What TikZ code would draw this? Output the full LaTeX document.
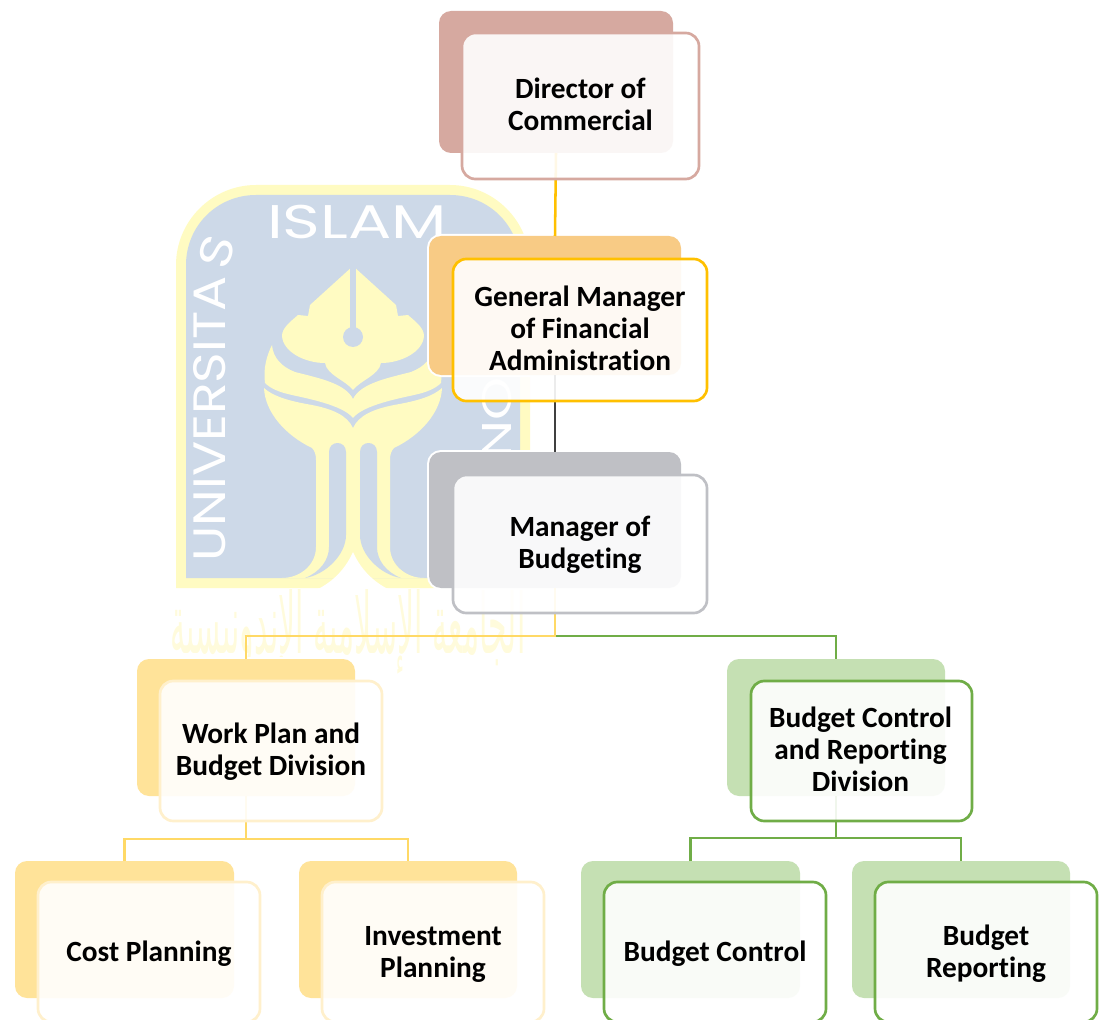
\documentclass[tikz,border=0pt]{standalone}
\usepackage{fontspec}
\usepackage{graphicx}
\setmainfont[Ligatures=NoCommon]{Carlito}
\newfontfamily\logofont{Poppins}
\newfontfamily\arabicfont[Script=Arabic]{DejaVu Sans}
\TeXXeTstate=1
\definecolor{wmY}{HTML}{FFFBC2}
\definecolor{wmB}{HTML}{CDD9E8}
\definecolor{wmA}{HTML}{FFFBDC}
\definecolor{dirB}{HTML}{D6A9A0}
\definecolor{gmB}{HTML}{F8CB85}
\definecolor{gmL}{HTML}{FFC000}
\definecolor{mgB}{HTML}{BFC0C5}
\definecolor{ylB}{HTML}{FFE399}
\definecolor{ylL}{HTML}{FFF0CC}
\definecolor{ylC}{HTML}{FFD966}
\definecolor{grB}{HTML}{C5E0B3}
\definecolor{grL}{HTML}{70AD47}
\definecolor{darkC}{HTML}{404040}
\tikzset{
  backbox/.style={rounded corners=9pt,preaction={draw=white,line width=3pt},inner sep=0pt,outer sep=0pt},
  frontbox/.style={rounded corners=10pt,line width=2pt,fill=white,fill opacity=.9,draw opacity=1,
    inner sep=0pt,outer sep=0pt},
  boxtext/.style={inner sep=0pt,outer sep=0pt,align=center,font=\fontsize{22}{24}\selectfont\bfseries},
  conn/.style={line width=1.9pt},
  wmtext/.style={text=white,inner sep=0pt,outer sep=0pt}
}
% box: name, x1, y1, x2, y2, style
\newcommand{\bxnode}[6]{%
  \pgfmathsetmacro{\bxw}{(#4-#2)*.75}%
  \pgfmathsetmacro{\bxh}{(#5-#3)*.75}%
  \pgfmathsetmacro{\bxcx}{(#2+#4)/2}%
  \pgfmathsetmacro{\bxcy}{(#3+#5)/2}%
  \node[#6,minimum width=\bxw pt,minimum height=\bxh pt] (#1) at (\bxcx,\bxcy) {};%
}
\begin{document}
\begin{tikzpicture}[x=.75pt,y=-.75pt]
\useasboundingbox (0,0) rectangle (1104,1020);
\clip (0,0) rectangle (1104,1020);
% ---------- watermark ----------
\fill[wmY] (176,588) -- (176,265) .. controls (176,221) and (212,185) .. (256,185) -- (450,185)
  .. controls (494,185) and (530,221) .. (530,265) -- (530,588) -- cycle;
\fill[wmB] (186,578) -- (186,265) .. controls (186,226) and (217,195) .. (256,195) -- (450,195)
  .. controls (489,195) and (520,226) .. (520,265) -- (520,578) -- cycle;
% pen nib
\fill[wmY] (353,266) -- (310,305) -- (308,316) -- (298,315)
  .. controls (290,322) and (282,328) .. (282,336)
  .. controls (283,352) and (305,363) .. (325,363)
  .. controls (327,375) and (345,380) .. (353,390)
  .. controls (361,380) and (379,375) .. (381,363)
  .. controls (401,363) and (423,352) .. (424,336)
  .. controls (424,328) and (416,322) .. (408,315)
  -- (398,316) -- (396,305) -- cycle;
\fill[wmB] (350.2,262) rectangle (355.8,332);
\fill[wmB] (353,337) circle[radius=10];
% upper leaf
\fill[wmY] (272,345) .. controls (273,358) and (282,367) .. (295,372)
  .. controls (318,378) and (345,383) .. (353,399)
  .. controls (361,383) and (388,378) .. (411,372)
  .. controls (424,367) and (433,358) .. (434,345)
  .. controls (439,355) and (443,368) .. (441,383)
  .. controls (436,388) and (428,392) .. (414,395)
  .. controls (401,398) and (363,405) .. (353,418)
  .. controls (343,405) and (305,398) .. (292,395)
  .. controls (278,392) and (270,388) .. (265,383)
  .. controls (263,368) and (267,355) .. (272,345) -- cycle;
% lower leaf and trunk
\fill[wmY] (264,388) .. controls (275,398) and (295,402) .. (312,405)
  .. controls (332,409) and (347,415) .. (353,428)
  .. controls (359,415) and (374,409) .. (394,405)
  .. controls (411,402) and (431,398) .. (442,388)
  .. controls (441,412) and (421,435) .. (394,448)
  .. controls (391,451) and (390,455) .. (390,460)
  -- (390,547) .. controls (390,565) and (406,578) .. (424,578)
  -- (282,578) .. controls (300,578) and (316,565) .. (316,547)
  -- (316,460) .. controls (316,455) and (315,451) .. (312,448)
  .. controls (285,435) and (265,412) .. (264,388) -- cycle;
% stripes
\fill[wmB] (329,547) .. controls (329,560) and (320,572) .. (305,578)
  .. controls (325,575) and (346,555) .. (346,535) -- (346,452)
  .. controls (346,440) and (329,440) .. (329,452) -- cycle;
\fill[wmB] (377,547) .. controls (377,560) and (386,572) .. (401,578)
  .. controls (381,575) and (360,555) .. (360,535) -- (360,452)
  .. controls (360,440) and (377,440) .. (377,452) -- cycle;
% white cusp under the trunk
\fill[white] (353,552) .. controls (345,570) and (332,582) .. (318,589) -- (388,589)
  .. controls (374,582) and (361,570) .. (353,552) -- cycle;
% lettering of the seal
\node[wmtext] (wmIslam) at (357,221.5) {\resizebox{135pt}{25pt}{\logofont ISLAM}};
\node[wmtext,rotate=90] (wmUni) at (209.5,419) {\resizebox{214pt}{24pt}{\logofont UNIVERSITA}};
\node[wmtext,rotate=74] (wmS) at (217,252) {\resizebox{24pt}{24pt}{\logofont S}};
\node[wmtext,rotate=-90] (wmInd) at (497,428) {\resizebox{212pt}{22pt}{\logofont INDONESIA}};
\node[inner sep=0pt,text=wmA] (wmArabic) at (348,632) {\resizebox{266pt}{48pt}{\arabicfont\beginR الجامعة الإسلامية الإندونيسية\endR}};
% ---------- back boxes ----------
\bxnode{dirBack}{439}{11}{673}{153}{backbox,fill=dirB}
\bxnode{gmBack}{429}{236}{681}{375}{backbox,fill=gmB}
\bxnode{mgBack}{429}{452}{681}{588}{backbox,fill=mgB}
\bxnode{workBack}{137}{659}{355}{796}{backbox,fill=ylB}
\bxnode{ctrlBack}{727}{659}{945}{796}{backbox,fill=grB}
\bxnode{costBack}{15}{861}{234}{998}{backbox,fill=ylB}
\bxnode{invBack}{299}{861}{517}{998}{backbox,fill=ylB}
\bxnode{bcBack}{581}{861}{800}{998}{backbox,fill=grB}
\bxnode{brBack}{852}{861}{1070}{998}{backbox,fill=grB}
% ---------- connectors ----------
\coordinate (junTop) at (mgBack.south |- 0,636);
\coordinate (junWork) at (workBack.south |- 0,839);
\coordinate (junCtrl) at (ctrlBack.south |- 0,838);
\draw[conn,draw=gmL] (dirBack.south) -- (gmBack.north);
\draw[conn,draw=darkC] (gmBack.south) -- (mgBack.north);
\draw[conn,draw=grL] (junTop) -| (ctrlBack.north);
\draw[conn,draw=ylC] (mgBack.south) -- (junTop) -| (workBack.north);
\draw[conn,draw=ylC] (workBack.south) -- (junWork);
\draw[conn,draw=ylC] (costBack.north) |- (junWork) -| (invBack.north);
\draw[conn,draw=grL] (ctrlBack.south) -- (junCtrl);
\draw[conn,draw=grL] (bcBack.north) |- (junCtrl) -| (brBack.north);
% ---------- front boxes ----------
\bxnode{dirFront}{462}{33}{699}{179}{frontbox,draw=dirB}
\bxnode{gmFront}{453}{259}{707}{401}{frontbox,draw=gmL}
\bxnode{mgFront}{453}{475}{707}{613}{frontbox,draw=mgB}
\bxnode{workFront}{160}{681}{382}{821}{frontbox,draw=ylL}
\bxnode{ctrlFront}{751}{681}{972}{821}{frontbox,draw=grL}
\bxnode{costFront}{38}{882}{260}{1022}{frontbox,draw=ylL}
\bxnode{invFront}{322}{882}{544}{1022}{frontbox,draw=ylL}
\bxnode{bcFront}{604}{882}{826}{1022}{frontbox,draw=grL}
\bxnode{brFront}{875}{882}{1097}{1022}{frontbox,draw=grL}
% ---------- labels ----------
\node[boxtext,yshift=1.2pt] (dirText) at (dirFront.center) {Director of\\Commercial};
\node[boxtext,yshift=1.5pt] (gmText) at (gmFront.center) {General Manager\\of Financial\\Administration};
\node[boxtext,yshift=-.8pt] (mgText) at (mgFront.center) {Manager of\\Budgeting};
\node[boxtext,yshift=-.8pt] (workText) at (workFront.center) {Work Plan and\\Budget Division};
\node[boxtext,yshift=1.5pt,xshift=-.7pt] (ctrlText) at (ctrlFront.center) {Budget Control\\and Reporting\\Division};
\node[boxtext,yshift=-1.5pt] (costText) at (costFront.center) {Cost Planning};
\node[boxtext,yshift=-1.5pt] (invText) at (invFront.center) {Investment\\Planning};
\node[boxtext,yshift=-1.5pt] (bcText) at (bcFront.center) {Budget Control};
\node[boxtext,yshift=-1.1pt] (brText) at (brFront.center) {Budget\\Reporting};
\end{tikzpicture}
\end{document}
